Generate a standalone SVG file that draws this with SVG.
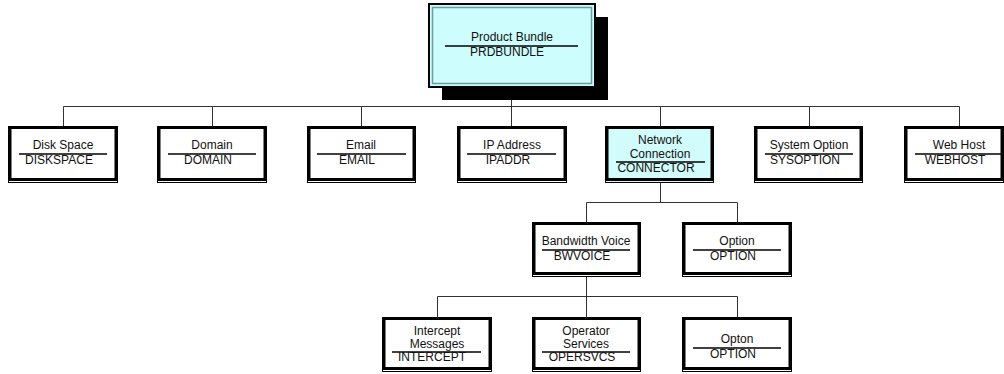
<svg xmlns="http://www.w3.org/2000/svg" width="1004" height="374" viewBox="0 0 1004 374">
  <style>
    text { font-family: "Liberation Sans", Arial, sans-serif; font-size: 12px; fill: #111; text-anchor: middle; }
    .bg { fill: #ffffff; stroke: none; }
    .bg-hi { fill: #d2fbfb; stroke: none; }
    .frame { fill: none; stroke: #000; stroke-width: 1; }
    .thick { fill: none; stroke: #000; stroke-width: 3; }
    .rule { stroke: #000; stroke-width: 1.5; }
    .wire { fill: none; stroke: #333; stroke-width: 1; }
  </style>

  <!-- connectors -->
  <g id="connectors">
    <path class="wire" d="M511.5 100 V106.5 M63.5 106.5 H959.5"/>
    <path class="wire" d="M63.5 106.5 V126 M212.5 106.5 V126 M361.5 106.5 V126 M511.5 106.5 V126 M660.5 106.5 V126 M809.5 106.5 V126 M959.5 106.5 V126"/>
    <path class="wire" d="M660.5 183 V202.5 M586.5 202.5 H737.5 M586.5 202.5 V222 M737.5 202.5 V222"/>
    <path class="wire" d="M586.5 277 V296.5 M437.5 296.5 H737.5 M437.5 296.5 V317 M586.5 296.5 V317 M737.5 296.5 V317"/>
  </g>

  <!-- root node with drop shadow -->
  <g id="node-prdbundle">
    <rect x="442" y="17" width="166" height="83" fill="#000"/>
    <rect x="429" y="4" width="166" height="83" fill="#cdfdfd" stroke="#000" stroke-width="2"/>
    <rect x="432.5" y="7.5" width="159" height="76" fill="none" stroke="#6f9d9d" stroke-width="1.5"/>
    <text x="512" y="41">Product Bundle</text>
    <line class="rule" x1="445" y1="46" x2="578" y2="46"/>
    <text x="507" y="56">PRDBUNDLE</text>
  </g>

  <!-- first level -->
  <g id="node-diskspace">
    <rect class="bg" x="8" y="126" width="110" height="57"/>
    <rect class="frame" x="8.5" y="126.5" width="109" height="56"/>
    <rect class="thick" x="10" y="127.5" width="106" height="52"/>
    <text x="63" y="149">Disk Space</text>
    <line class="rule" x1="19" y1="154" x2="107" y2="154"/>
    <text x="59" y="164">DISKSPACE</text>
  </g>

  <g id="node-domain">
    <rect class="bg" x="157" y="126" width="110" height="57"/>
    <rect class="frame" x="157.5" y="126.5" width="109" height="56"/>
    <rect class="thick" x="159" y="127.5" width="106" height="52"/>
    <text x="212" y="149">Domain</text>
    <line class="rule" x1="168" y1="154" x2="256" y2="154"/>
    <text x="208" y="164">DOMAIN</text>
  </g>

  <g id="node-email">
    <rect class="bg" x="307" y="126" width="109" height="57"/>
    <rect class="frame" x="307.5" y="126.5" width="108" height="56"/>
    <rect class="thick" x="309" y="127.5" width="105" height="52"/>
    <text x="361" y="149">Email</text>
    <line class="rule" x1="317" y1="154" x2="406" y2="154"/>
    <text x="357" y="164">EMAIL</text>
  </g>

  <g id="node-ipaddr">
    <rect class="bg" x="457" y="126" width="110" height="57"/>
    <rect class="frame" x="457.5" y="126.5" width="109" height="56"/>
    <rect class="thick" x="459" y="127.5" width="106" height="52"/>
    <text x="512" y="149">IP Address</text>
    <line class="rule" x1="467" y1="154" x2="556" y2="154"/>
    <text x="508" y="164">IPADDR</text>
  </g>

  <g id="node-connector">
    <rect class="bg-hi" x="605" y="126" width="109" height="57"/>
    <rect class="frame" x="605.5" y="126.5" width="108" height="56"/>
    <rect class="thick" x="607" y="127.5" width="105" height="52"/>
    <text x="660" y="144">Network</text>
    <text x="660" y="158">Connection</text>
    <line class="rule" x1="616" y1="162" x2="705" y2="162"/>
    <text x="656" y="172">CONNECTOR</text>
  </g>

  <g id="node-sysoption">
    <rect class="bg" x="754" y="126" width="109" height="57"/>
    <rect class="frame" x="754.5" y="126.5" width="108" height="56"/>
    <rect class="thick" x="756" y="127.5" width="105" height="52"/>
    <text x="809" y="149">System Option</text>
    <line class="rule" x1="765" y1="154" x2="853" y2="154"/>
    <text x="805" y="164">SYSOPTION</text>
  </g>

  <g id="node-webhost">
    <rect class="bg" x="904" y="126" width="100" height="57"/>
    <rect class="frame" x="904.5" y="126.5" width="99" height="56"/>
    <rect class="thick" x="906" y="127.5" width="96" height="52"/>
    <text x="959" y="149">Web Host</text>
    <line class="rule" x1="915" y1="154" x2="1003" y2="154"/>
    <text x="955" y="164">WEBHOST</text>
  </g>

  <!-- second level -->
  <g id="node-bwvoice">
    <rect class="bg" x="532" y="222" width="109" height="55"/>
    <rect class="frame" x="532.5" y="222.5" width="108" height="54"/>
    <rect class="thick" x="534" y="223.5" width="105" height="50"/>
    <text x="586" y="245">Bandwidth Voice</text>
    <line class="rule" x1="542" y1="250" x2="630" y2="250"/>
    <text x="582" y="260">BWVOICE</text>
  </g>

  <g id="node-option">
    <rect class="bg" x="682" y="222" width="110" height="55"/>
    <rect class="frame" x="682.5" y="222.5" width="109" height="54"/>
    <rect class="thick" x="684" y="223.5" width="106" height="50"/>
    <text x="737" y="245">Option</text>
    <line class="rule" x1="693" y1="250" x2="781" y2="250"/>
    <text x="733" y="260">OPTION</text>
  </g>

  <!-- third level -->
  <g id="node-intercept">
    <rect class="bg" x="382" y="317" width="110" height="55"/>
    <rect class="frame" x="382.5" y="317.5" width="109" height="54"/>
    <rect class="thick" x="384" y="318.5" width="106" height="50"/>
    <text x="437" y="335">Intercept</text>
    <text x="437" y="348">Messages</text>
    <line class="rule" x1="392" y1="352" x2="481" y2="352"/>
    <text x="432" y="361">INTERCEPT</text>
  </g>

  <g id="node-opersvcs">
    <rect class="bg" x="532" y="317" width="109" height="55"/>
    <rect class="frame" x="532.5" y="317.5" width="108" height="54"/>
    <rect class="thick" x="534" y="318.5" width="105" height="50"/>
    <text x="586" y="335">Operator</text>
    <text x="586" y="348">Services</text>
    <line class="rule" x1="542" y1="352" x2="630" y2="352"/>
    <text x="582" y="361">OPERSVCS</text>
  </g>

  <g id="node-opton">
    <rect class="bg" x="682" y="317" width="110" height="55"/>
    <rect class="frame" x="682.5" y="317.5" width="109" height="54"/>
    <rect class="thick" x="684" y="318.5" width="106" height="50"/>
    <text x="737" y="343">Opton</text>
    <line class="rule" x1="693" y1="348" x2="781" y2="348"/>
    <text x="733" y="358">OPTION</text>
  </g>
</svg>
